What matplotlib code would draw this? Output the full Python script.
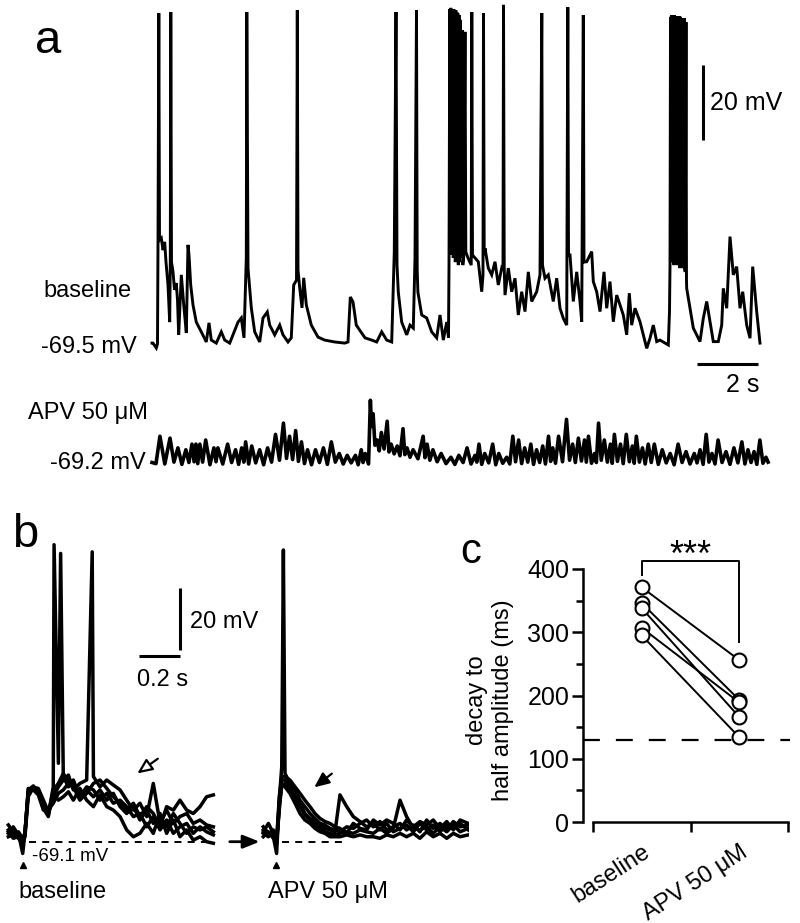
import numpy as np
import matplotlib.pyplot as plt

plt.rcParams['font.family'] = ['Liberation Sans', 'DejaVu Sans']

# ---------- panel a, baseline sweep: (time s, membrane potential mV) ----------
a_sub = [
    (0.000, -69.0), (0.033, -69.0), (0.141, -70.3), (0.180, -69.2), (0.197, -42.0), (0.246, -41.5),
    (0.305, -41.0), (0.361, -44.2), (0.416, -42.0), (0.459, -47.4), (0.525, -53.5), (0.580, -63.4),
    (0.600, -47.4), (0.639, -47.4), (0.689, -50.0), (0.738, -54.8), (0.797, -53.0), (0.836, -57.5),
    (0.875, -66.8), (0.961, -50.8), (1.000, -54.8), (1.049, -59.6), (1.125, -66.3), (1.180, -42.8),
    (1.213, -45.5), (1.269, -53.5), (1.344, -58.8), (1.452, -63.4), (1.616, -66.0), (1.780, -68.7),
    (1.869, -63.6), (1.944, -68.2), (2.108, -69.0), (2.272, -66.0), (2.384, -68.2), (2.548, -69.0),
    (2.656, -66.8), (2.820, -63.4), (2.928, -62.3), (3.016, -67.6), (3.092, -46.3), (3.148, -49.0),
    (3.256, -59.6), (3.367, -66.0), (3.531, -68.7), (3.639, -62.3), (3.780, -60.7), (3.859, -64.2),
    (4.023, -66.8), (4.187, -64.2), (4.295, -66.8), (4.459, -68.7), (4.567, -67.6), (4.646, -53.5),
    (4.738, -52.2), (4.787, -49.5), (4.843, -54.3), (4.918, -59.6), (4.974, -51.6), (5.059, -58.8),
    (5.223, -64.2), (5.443, -67.4), (5.662, -68.2), (5.990, -68.7), (6.318, -69.0), (6.426, -68.7),
    (6.502, -56.7), (6.590, -58.0), (6.698, -64.2), (6.764, -65.0), (6.984, -67.6), (7.203, -68.2),
    (7.367, -68.7), (7.531, -66.0), (7.695, -68.2), (7.859, -68.7), (7.944, -44.7), (8.033, -48.2),
    (8.075, -55.4), (8.187, -63.4), (8.351, -66.8), (8.459, -64.2), (8.567, -65.0), (8.623, -46.3),
    (8.695, -49.5), (8.718, -55.4), (8.843, -61.5), (9.007, -62.3), (9.170, -66.0), (9.334, -67.6),
    (9.443, -61.5), (9.551, -68.2), (9.662, -63.4), (9.721, -67.6), (9.738, -48.2), (9.780, -44.2),
    (9.813, -45.5), (9.846, -42.8), (9.878, -46.3), (9.911, -44.2), (9.944, -47.4), (9.977, -45.5),
    (10.009, -46.3), (10.042, -48.2), (10.082, -47.4), (10.131, -46.3), (10.190, -48.2), (10.220, -46.0),
    (10.289, -44.7), (10.361, -46.3), (10.466, -48.2), (10.508, -45.5), (10.698, -47.3), (10.810, -55.3),
    (10.852, -50.8), (10.892, -45.5), (10.918, -43.7), (11.026, -49.0), (11.138, -50.8), (11.246, -47.3),
    (11.354, -53.5), (11.466, -49.0), (11.508, -49.5), (11.548, -48.9), (11.574, -56.2), (11.682, -49.0),
    (11.793, -55.3), (11.902, -51.7), (12.010, -61.5), (12.121, -55.3), (12.230, -60.6), (12.338, -50.0),
    (12.449, -57.9), (12.613, -55.3), (12.721, -50.8), (12.803, -48.2), (12.885, -51.7), (12.993, -50.8),
    (13.157, -57.9), (13.269, -51.7), (13.377, -59.7), (13.485, -62.4), (13.597, -64.2), (13.656, -45.5),
    (13.705, -45.5), (13.813, -57.9), (13.925, -50.0), (14.033, -57.9), (14.089, -63.3), (14.164, -47.4),
    (14.252, -47.3), (14.416, -44.6), (14.469, -52.6), (14.580, -55.3), (14.689, -60.6), (14.820, -50.0),
    (14.908, -59.7), (15.016, -52.6), (15.125, -63.3), (15.236, -56.2), (15.344, -58.8), (15.452, -61.5),
    (15.564, -66.8), (15.649, -55.7), (15.728, -64.2), (15.836, -59.7), (16.000, -63.3), (16.108, -66.8),
    (16.220, -70.4), (16.328, -67.7), (16.436, -64.2), (16.548, -68.6), (16.656, -68.2), (16.820, -69.0),
    (16.928, -69.5), (16.967, -60.6), (16.984, -48.2), (17.016, -46.3), (17.049, -47.4), (17.082, -46.8),
    (17.114, -48.2), (17.147, -46.3), (17.180, -47.4), (17.213, -48.2), (17.246, -46.8), (17.278, -47.4),
    (17.311, -49.0), (17.344, -47.4), (17.377, -48.2), (17.409, -49.0), (17.430, -48.5), (17.468, -49.5),
    (17.485, -50.0), (17.524, -52.2), (17.531, -54.4), (17.639, -59.7), (17.748, -65.0), (17.967, -68.6),
    (18.075, -62.4), (18.187, -57.9), (18.295, -63.3), (18.403, -68.6), (18.567, -68.6), (18.679, -64.2),
    (18.731, -54.4), (18.843, -59.7), (18.951, -40.6), (19.059, -50.8), (19.170, -48.6), (19.279, -59.7),
    (19.367, -55.3), (19.498, -64.2), (19.607, -67.7), (19.695, -48.6), (19.826, -60.6), (19.934, -69.0),
]
# action potential peaks (time s, peak mV)
a_spikes = [
    (0.223, 19.0), (0.616, 19.3), (3.108, 19.3), (4.764, 19.8), (8.000, 19.3), (8.672, 19.8),
    (9.764, 20.1), (9.797, 20.4), (9.830, 20.1), (9.862, 19.8), (9.895, 20.1), (9.928, 19.6),
    (9.961, 19.8), (9.993, 19.3), (10.026, 19.0), (10.066, 18.5), (10.115, 17.2), (10.174, 14.5),
    (10.262, 14.0), (10.485, 19.3), (10.869, 19.0), (11.525, 21.2), (12.780, 19.0), (13.633, 20.6),
    (14.141, 18.5), (17.000, 18.0), (17.033, 18.5), (17.066, 18.2), (17.098, 18.0), (17.131, 18.5),
    (17.164, 17.7), (17.197, 18.2), (17.230, 18.0), (17.262, 17.7), (17.295, 18.2), (17.328, 18.0),
    (17.361, 17.7), (17.393, 17.4), (17.452, 17.7), (17.508, 16.6),
]

# ---------- panel a, APV sweep ----------
apv_peaks = [
    (0.26, -62.6), (0.59, -63.1), (0.85, -65.7), (1.11, -66.2), (1.31, -64.7), (1.44, -64.7), (1.57, -64.7),
    (1.76, -63.6), (2.03, -65.7), (2.16, -65.7), (2.48, -64.7), (2.74, -66.2), (2.94, -65.7), (3.07, -64.1),
    (3.27, -65.2), (3.53, -66.2), (3.79, -65.7), (4.05, -62.1), (4.31, -59.1), (4.51, -62.6), (4.71, -61.1),
    (4.90, -64.1), (5.10, -66.2), (5.36, -66.2), (5.62, -65.7), (5.88, -64.1), (6.14, -67.2), (6.40, -67.7),
    (6.67, -67.7), (6.86, -66.2), (6.99, -67.2), (7.16, -53.0), (7.25, -56.6), (7.38, -63.6), (7.52, -61.6),
    (7.71, -58.6), (7.84, -64.7), (8.04, -65.2), (8.23, -60.6), (8.36, -65.7), (8.56, -66.2), (8.89, -62.6),
    (9.02, -64.7), (9.21, -66.2), (9.48, -67.2), (9.80, -68.2), (10.06, -67.7), (10.33, -65.7), (10.59, -67.7),
    (10.72, -64.7), (10.91, -67.2), (11.17, -64.7), (11.37, -67.2), (11.63, -68.2), (11.83, -62.6), (12.02, -63.6),
    (12.22, -65.7), (12.42, -64.7), (12.61, -66.2), (12.81, -65.2), (13.00, -62.6), (13.14, -65.7), (13.33, -62.6),
    (13.59, -58.1), (13.79, -64.7), (13.98, -63.1), (14.18, -63.6), (14.31, -62.6), (14.51, -67.2), (14.64, -59.1),
    (14.83, -63.6), (15.03, -64.7), (15.16, -62.1), (15.36, -64.7), (15.55, -62.1), (15.75, -65.2), (15.88, -62.6),
    (16.08, -65.7), (16.27, -64.7), (16.47, -64.7), (16.73, -66.2), (16.99, -67.2), (17.25, -64.7), (17.51, -66.7),
    (17.78, -67.2), (17.97, -66.2), (18.17, -62.1), (18.36, -67.2), (18.56, -63.6), (18.82, -66.7), (19.08, -65.7),
    (19.34, -64.1), (19.54, -66.2), (19.74, -66.7), (19.93, -63.6), (20.13, -68.2),
]
apv_troughs = [
    (0.00, -69.6), (0.13, -69.9), (0.42, -70.0), (0.72, -69.5), (0.98, -70.1), (1.21, -69.6), (1.38, -69.4),
    (1.50, -69.9), (1.66, -69.5), (1.90, -70.2), (2.10, -69.4), (2.32, -70.0), (2.61, -69.6), (2.84, -70.1),
    (3.01, -69.5), (3.17, -70.0), (3.40, -69.7), (3.66, -70.2), (3.92, -69.5), (4.18, -69.0), (4.41, -68.5),
    (4.61, -68.8), (4.80, -69.3), (5.00, -69.9), (5.23, -70.2), (5.49, -69.6), (5.75, -70.1), (6.01, -69.5),
    (6.27, -70.0), (6.53, -69.7), (6.76, -70.2), (6.92, -69.6), (7.10, -70.0), (7.20, -60.0), (7.31, -65.0),
    (7.45, -66.5), (7.61, -66.0), (7.77, -66.8), (7.94, -67.3), (8.13, -67.8), (8.29, -67.5), (8.46, -68.2),
    (8.72, -68.6), (8.95, -68.3), (9.11, -69.0), (9.35, -69.4), (9.64, -69.9), (9.93, -70.1), (10.20, -69.6),
    (10.46, -70.0), (10.65, -69.5), (10.81, -70.1), (11.04, -69.7), (11.27, -70.2), (11.50, -69.8), (11.73, -70.0),
    (11.92, -69.4), (12.12, -69.9), (12.32, -69.5), (12.51, -70.1), (12.71, -69.6), (12.90, -70.0), (13.07, -69.3),
    (13.23, -69.8), (13.46, -69.4), (13.69, -69.0), (13.88, -69.6), (14.08, -69.2), (14.24, -69.5), (14.41, -69.8),
    (14.57, -69.6), (14.73, -69.0), (14.93, -69.5), (15.09, -69.8), (15.26, -69.3), (15.45, -69.9), (15.65, -69.4),
    (15.81, -69.8), (15.98, -69.5), (16.17, -70.0), (16.37, -69.6), (16.60, -70.1), (16.86, -69.7), (17.12, -70.2),
    (17.38, -69.6), (17.64, -70.0), (17.87, -69.7), (18.07, -70.1), (18.26, -69.5), (18.46, -70.0), (18.69, -69.6),
    (18.95, -70.1), (19.21, -69.7), (19.44, -70.0), (19.64, -69.6), (19.83, -70.1), (20.03, -69.8), (20.20, -69.5),
]

# ---------- panel b: 5 overlaid sweeps, deflection from rest (mV) ----------
b_rest = -69.1
b1_t = [-0.069, -0.045, -0.020, 0.001, 0.012, 0.028, 0.053, 0.077, 0.102, 0.126, 0.150, 0.175,
        0.199, 0.224, 0.248, 0.280, 0.313, 0.346, 0.378, 0.411, 0.443, 0.476, 0.508, 0.541,
        0.573, 0.606, 0.638, 0.671, 0.703, 0.736, 0.768, 0.801, 0.833, 0.866, 0.898, 0.931]
b1_sweeps = [
    [3.8, 1.6, 2.7, -3.8, 2.7, 16.1, 17.2, 16.1, 11.3, 8.6, 17.7, 25.3, 21.0, 17.7, 18.8, 15.6, 16.7, 14.5,
     16.7, 13.4, 15.6, 11.3, 9.1, 11.3, 7.0, 10.2, 5.9, 8.1, 4.8, 9.1, 5.9, 2.7, 4.8, 3.8, 4.8, 3.2],
    [5.4, 3.2, 1.1, -0.5, 3.2, 15.6, 17.7, 16.7, 12.4, 9.1, 14.5, 17.7, 19.9, 21.5, 16.7, 18.8, 19.9, 21.0,
     17.7, 19.9, 18.3, 16.7, 13.4, 10.2, 12.4, 8.1, 18.8, 5.9, 10.2, 5.9, 8.1, 9.1, 5.9, 7.0, 5.4, 4.8],
    [2.7, 4.8, 2.2, 0.0, 2.2, 17.2, 16.7, 15.1, 10.2, 10.2, 12.4, 15.6, 16.7, 18.8, 19.9, 14.5, 17.7, 16.7,
     13.4, 15.6, 12.4, 13.4, 11.3, 8.1, 9.1, 4.8, 8.1, 3.8, 7.0, 2.7, 4.8, 5.9, 2.7, 4.8, 3.2, 2.2],
    [1.6, 2.2, 3.2, 1.1, 1.6, 14.5, 17.5, 17.2, 13.4, 9.7, 15.6, 13.4, 14.5, 16.1, 13.4, 17.2, 13.4, 11.3,
     15.1, 11.3, 10.2, 8.1, 3.8, 1.6, 2.7, 5.9, 2.7, 9.1, 2.7, 7.0, 1.6, 3.8, 0.5, 1.6, 0.0, -0.5],
    [3.2, 1.1, 1.6, 0.8, 2.7, 16.7, 18.0, 15.6, 10.8, 8.1, 16.7, 18.8, 22.0, 19.4, 17.7, 13.4, 15.6, 18.8,
     19.9, 17.2, 14.5, 12.4, 10.2, 12.4, 8.1, 11.3, 9.1, 4.8, 11.3, 10.2, 13.4, 10.2, 9.1, 11.3, 14.5, 15.1],
]
b1_spikes = [[(0.154, 95.8), (0.186, 93.0)], [(0.340, 93.5)], [], [], []]

b2_t = [-0.062, -0.037, -0.013, 0.003, 0.016, 0.028, 0.044, 0.068, 0.093, 0.117, 0.141, 0.166, 0.190,
        0.215, 0.239, 0.263, 0.288, 0.312, 0.345, 0.377, 0.410, 0.442, 0.475, 0.507, 0.540, 0.572,
        0.605, 0.637, 0.670, 0.702, 0.735, 0.767, 0.800, 0.833, 0.865, 0.898, 0.938]
b2_sweeps = [
    [4.8, 2.7, 1.6, -3.8, 13.4, 24.2, 22.0, 18.8, 16.7, 13.4, 11.3, 9.1, 7.5, 5.9, 5.4, 4.3, 3.8, 3.2, 4.8,
     4.3, 5.9, 7.0, 4.8, 6.5, 3.8, 4.8, 5.9, 3.8, 5.4, 3.2, 7.0, 4.3, 5.9, 3.8, 6.5, 4.8, 5.4],
    [3.2, 5.9, 2.7, -0.5, 11.3, 19.9, 19.9, 17.7, 14.5, 12.4, 9.1, 7.5, 6.5, 5.4, 4.3, 3.8, 3.2, 15.1, 11.3,
     8.1, 6.5, 4.8, 5.9, 3.8, 5.9, 3.2, 4.3, 5.4, 3.2, 5.9, 3.8, 5.4, 3.2, 5.4, 4.3, 5.9, 3.8],
    [2.7, 1.6, 3.8, 0.5, 12.4, 17.7, 18.8, 16.7, 13.4, 11.3, 8.6, 7.0, 5.4, 4.3, 3.2, 2.7, 2.2, 2.7, 3.2,
     2.7, 3.8, 3.2, 2.7, 4.3, 2.7, 4.3, 13.4, 8.1, 4.3, 3.8, 4.8, 2.7, 4.8, 3.2, 5.4, 3.2, 4.3],
    [1.6, 3.2, 1.1, 0.0, 10.2, 18.8, 17.7, 15.6, 12.4, 9.1, 7.0, 5.9, 4.3, 3.2, 2.7, 1.6, 1.6, 1.6, 2.2,
     1.6, 2.2, 1.6, 1.6, 1.1, 2.2, 1.6, 2.7, 1.6, 2.7, 1.1, 3.2, 1.6, 2.7, 1.1, 2.7, 1.6, 2.2],
    [3.8, 2.2, 2.2, 0.5, 14.5, 21.0, 21.0, 19.9, 17.7, 15.6, 13.4, 11.3, 9.1, 7.5, 6.5, 5.9, 4.8, 4.3, 2.7,
     5.9, 4.3, 3.8, 7.0, 5.4, 7.0, 5.9, 3.8, 7.0, 4.8, 6.5, 5.4, 7.0, 4.3, 6.5, 3.8, 7.0, 5.9],
]
b2_spikes = [[(0.036, 94.1)], [], [], [], []]

# ---------- panel c ----------
groups = ['baseline', 'APV 50 \u03bcM']
decay_baseline = [371, 346, 338, 307, 295]
decay_apv = [256, 193, 166, 189, 134]
ref_level = 129.6

W, H = 800, 923
fig = plt.figure(figsize=(W / 100, H / 100), dpi=100)


def px_axes(x0, y0, x1, y1, off=True):
    ax = fig.add_axes([x0 / W, 1 - y1 / H, (x1 - x0) / W, (y1 - y0) / H])
    if off:
        ax.axis('off')
    return ax


def ftext(x, y, s, **kw):
    fig.text(x / W, 1 - y / H, s, **kw)


def merged(a, b):
    pts = np.array(sorted(list(a) + list(b), key=lambda p: p[0]))
    return pts[:, 0], pts[:, 1]


# ----- panel a -----
ax_a = px_axes(136.75, 1.875, 777.25, 373.1)
ax_a.set_xlim(-0.5, 20.5)
ax_a.set_ylim(-77, 22)
t, v = merged(a_sub, a_spikes)
ax_a.plot(t, v, color='k', lw=2.1, solid_joinstyle='miter')
ax_a.plot([18.07, 18.07], [-14.8, 5.2], color='k', lw=2.2, solid_capstyle='butt')
ax_a.plot([17.86, 19.87], [-74.6, -74.6], color='k', lw=2.2, solid_capstyle='butt')

ax_apv = px_axes(136.75, 389, 777.25, 471.5)
ax_apv.set_xlim(-0.5, 20.5)
ax_apv.set_ylim(-72, -50)
t, v = merged(apv_troughs, apv_peaks)
ax_apv.plot(t, v, color='k', lw=2.6)

ftext(35, 53, 'a', fontsize=34, va='baseline')
ftext(132, 297, 'baseline', fontsize=17, ha='right', va='baseline')
ftext(137, 353, '-69.5 mV', fontsize=17, ha='right', va='baseline')
ftext(148, 419, 'APV 50 \u03bcM', fontsize=17, ha='right', va='baseline')
ftext(146, 469, '-69.2 mV', fontsize=17, ha='right', va='baseline')
ftext(710, 110, '20 mV', fontsize=18, ha='left', va='baseline')
ftext(743, 392, '2 s', fontsize=18, ha='center', va='baseline')

# ----- panel b -----
ax_b1 = px_axes(2.0, 534.5, 227.5, 866.2)
ax_b1.set_xlim(-0.1, 1.0)
ax_b1.set_ylim(-77, 30)
for sweep, sp in zip(b1_sweeps, b1_spikes):
    t, v = merged(zip(b1_t, sweep), sp)
    ax_b1.plot(t, b_rest + v, color='k', lw=2.5)
ax_b1.plot([0.03, 0.93], [b_rest, b_rest], color='k', lw=1.4, ls=(0, (3.6, 3.2)))
ax_b1.plot([0.766, 0.766], [-7.3, 12.7], color='k', lw=2.2, solid_capstyle='butt')
ax_b1.plot([0.566, 0.766], [-9.1, -9.1], color='k', lw=2.2, solid_capstyle='butt')
ax_b1.plot([0], [-76.6], marker='^', ms=5, color='k', clip_on=False)
ax_b1.annotate('', xy=(0.549, -47.6), xytext=(0.671, -41.8),
               arrowprops=dict(arrowstyle='-|>,head_length=0.9,head_width=0.4',
                               fc='white', ec='k', lw=1.6))
ax_b1.text(0.046, -73.8, '-69.1 mV', fontsize=13.5, ha='left', va='center')

ax_b2 = px_axes(259.6, 534.5, 468.7, 866.2)
ax_b2.set_xlim(-0.08, 0.94)
ax_b2.set_ylim(-77, 30)
for sweep, sp in zip(b2_sweeps, b2_spikes):
    t, v = merged(zip(b2_t, sweep), sp)
    ax_b2.plot(t, b_rest + v, color='k', lw=2.5)
ax_b2.plot([0.03, 0.33], [b_rest, b_rest], color='k', lw=1.4, ls=(0, (3.6, 3.2)), zorder=0)
ax_b2.plot([0], [-76.6], marker='^', ms=5, color='k', clip_on=False)
ax_b2.annotate('', xy=(0.176, -52.1), xytext=(0.283, -46.6),
               arrowprops=dict(arrowstyle='-|>,head_length=0.9,head_width=0.4',
                               fc='k', ec='k', lw=1.6))
ax_b2.annotate('', xy=(-0.066, b_rest), xytext=(-0.239, b_rest), annotation_clip=False,
               arrowprops=dict(arrowstyle='-|>,head_length=1.0,head_width=0.4',
                               fc='k', ec='k', lw=2.0))

ftext(12, 547, 'b', fontsize=34, va='baseline')
ftext(190, 628, '20 mV', fontsize=17, ha='left', va='baseline')
ftext(137, 686, '0.2 s', fontsize=17, ha='left', va='baseline')
ftext(18, 898, 'baseline', fontsize=17, ha='left', va='baseline')
ftext(268, 898, 'APV 50 \u03bcM', fontsize=17, ha='left', va='baseline')

# ----- panel c -----
ax_c = px_axes(583.25, 569, 789.95, 822, off=False)
ax_c.set_xlim(-0.1, 2.02)
ax_c.set_ylim(0, 400)
for s in ['top', 'right']:
    ax_c.spines[s].set_visible(False)
ax_c.spines['left'].set_bounds(0, 400)
ax_c.spines['bottom'].set_bounds(0, 2)
for s in ['left', 'bottom']:
    ax_c.spines[s].set_linewidth(1.8)
ax_c.set_yticks([0, 100, 200, 300, 400])
ax_c.set_yticks([50, 150, 250, 350], minor=True)
ax_c.set_xticks([0, 1, 2])
ax_c.set_xticklabels([])
ax_c.tick_params(axis='y', which='major', length=8, width=1.8, labelsize=18, pad=2)
ax_c.tick_params(axis='y', which='minor', length=5, width=1.8)
ax_c.tick_params(axis='x', which='major', length=7.5, width=1.8)

ax_c.plot([-0.1, 2.02], [ref_level, ref_level], color='k', lw=1.6, ls=(0, (7.6, 7.2)), clip_on=False)
for b, a in zip(decay_baseline, decay_apv):
    ax_c.plot([0.5, 1.5], [b, a], color='k', lw=1.4, zorder=3)
ax_c.plot([0.5] * len(decay_baseline), decay_baseline, ls='none', marker='o', ms=10,
          mfc='white', mec='k', mew=1.5, zorder=4, clip_on=False)
ax_c.plot([1.5] * len(decay_apv), decay_apv, ls='none', marker='o', ms=10,
          mfc='white', mec='k', mew=1.5, zorder=4, clip_on=False)
ax_c.plot([0.5, 0.5, 1.5, 1.5], [390, 412.6, 412.6, 285], color='k', lw=1.4, clip_on=False)
ax_c.text(0.995, 405, '***', fontsize=26, ha='center', va='baseline')
for x, lab in zip([0.5, 1.5], groups):
    ax_c.text(x, -30, lab, fontsize=17, rotation=33, ha='right', va='top',
              rotation_mode='anchor')

ftext(460, 563, 'c', fontsize=30, va='baseline')
ftext(490, 700, 'decay to\nhalf amplitude (ms)', fontsize=17, rotation=90,
      ha='center', va='center', multialignment='center')

fig.savefig('out.png', dpi=100)
